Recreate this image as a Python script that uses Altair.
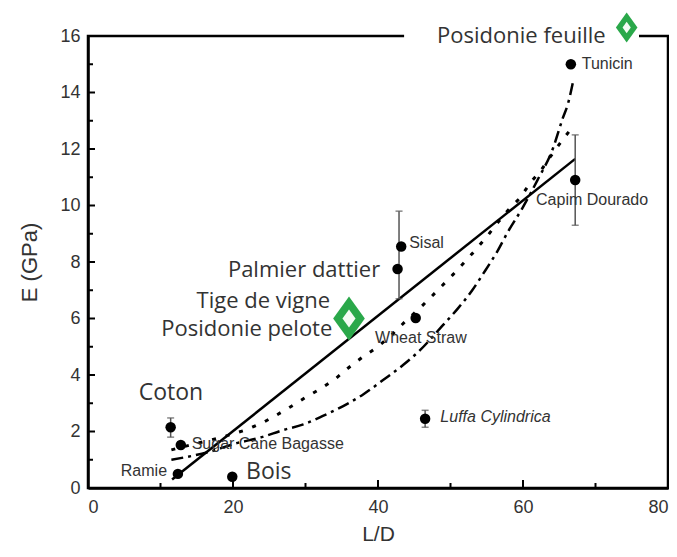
import altair as alt
import pandas as pd

# ---------------- data ----------------
fibre_names = ["Coton", "Sugar Cane Bagasse", "Ramie", "Bois", "Palmier dattier",
               "Sisal", "Wheat Straw", "Luffa Cylindrica", "Capim Dourado", "Tunicin"]
fibre_ld = [11.4, 12.8, 12.4, 19.9, 42.7, 43.2, 45.2, 46.5, 67.2, 66.6]
fibre_e = [2.15, 1.52, 0.50, 0.40, 7.75, 8.55, 6.02, 2.45, 10.9, 15.0]

err_ld = [11.4, 42.9, 46.5, 67.2]
err_lo = [1.80, 6.70, 2.15, 9.30]
err_hi = [2.48, 9.80, 2.75, 12.50]

linear_ld = [11.6, 67.2]
linear_e = [0.30, 11.65]

dotted_ld = [11.5, 15.0, 18.5, 21.7, 24.0, 25.8, 27.9, 29.9, 32.0, 34.1, 35.9, 37.9,
             40.0, 42.0, 43.7, 45.5, 47.2, 48.8, 50.4, 52.1, 53.7, 55.2, 56.6, 58.0,
             59.6, 61.0, 62.5, 63.7, 65.1, 66.5]
dotted_e = [1.35, 1.58, 1.80, 2.05, 2.30, 2.55, 2.87, 3.19, 3.50, 3.86, 4.25, 4.64,
            5.00, 5.45, 5.88, 6.30, 6.73, 7.15, 7.57, 8.04, 8.50, 8.96, 9.42, 9.85,
            10.27, 10.80, 11.25, 11.70, 12.20, 12.67]

dashdot_ld = [11.5, 17.0, 20.0, 24.1, 26.9, 29.7, 32.4, 35.2, 38.0, 40.7, 43.5, 45.8,
              48.8, 51.0, 53.0, 54.8, 56.4, 57.9, 59.9, 62.0, 64.1, 65.5, 66.2, 67.0]
dashdot_e = [1.00, 1.30, 1.55, 1.81, 2.05, 2.25, 2.55, 2.90, 3.32, 3.82, 4.36, 4.88,
             5.72, 6.35, 7.00, 7.70, 8.35, 9.06, 9.90, 10.90, 12.00, 13.10, 13.60, 14.50]

posidonie_ld = [36.0, 74.3]
posidonie_e = [6.0, 16.3]

big_text = ["Posidonie feuille", "Palmier dattier", "Tige de vigne", "Posidonie pelote"]
big_ld = [71.4, 40.3, 33.4, 33.7]
big_e = [16.0, 7.72, 6.62, 5.62]
big_left_text = ["Coton", "Bois"]
big_left_ld = [7.0, 21.8]
big_left_e = [3.36, 0.57]

small_text = ["Tunicin", "Capim Dourado", "Sisal", "Wheat Straw", "Sugar Cane Bagasse"]
small_ld = [68.1, 61.8, 44.3, 39.6, 14.3]
small_e = [15.0, 10.2, 8.67, 5.3, 1.56]
ramie_text = ["Ramie"]
ramie_ld = [10.9]
ramie_e = [0.60]
italic_text = ["Luffa Cylindrica"]
italic_ld = [48.6]
italic_e = [2.50]

label_box_ld = [43.6, 76.0]
label_box_e = [15.85, 16.15]

x_ticks = [0, 20, 40, 60, 80]
y_ticks = [0, 2, 4, 6, 8, 10, 12, 14, 16]
x_major = [20, 40, 60]
x_minor = [10, 30, 50, 70]
y_major = [2, 4, 6, 8, 10, 12, 14]
y_minor = [1, 3, 5, 7, 9, 11, 13, 15]

# ---------------- chart ----------------
W, H = 580, 452
TXT = "#333333"
GREEN = "#2aa84a"

xs = alt.Scale(domain=[0, 80], nice=False, zero=False)
ys = alt.Scale(domain=[0, 16], nice=False, zero=False)
xaxis = alt.Axis(values=x_ticks, ticks=False, grid=False, domainColor="black",
                 domainWidth=2.5, labelFont="Liberation Sans", labelFontSize=18,
                 labelColor=TXT, labelPadding=10, title="L/D",
                 titleFont="Liberation Sans", titleFontSize=21,
                 titleFontWeight="normal", titleColor=TXT, titlePadding=7)
yaxis = alt.Axis(values=y_ticks, ticks=False, grid=False, domainColor="black",
                 domainWidth=2.5, labelFont="Liberation Sans", labelFontSize=18,
                 labelColor=TXT, labelPadding=8, title="E (GPa)",
                 titleFont="Liberation Sans", titleFontSize=22,
                 titleFontWeight="normal", titleColor=TXT, titlePadding=18)


def X(f):
    return alt.X(f, type="quantitative", scale=xs, axis=xaxis)


def Y(f):
    return alt.Y(f, type="quantitative", scale=ys, axis=yaxis)


pts = pd.DataFrame({"name": fibre_names, "ld": fibre_ld, "e": fibre_e})
err = pd.DataFrame({"ld": err_ld, "lo": err_lo, "hi": err_hi})
lin = pd.DataFrame({"ld": linear_ld, "e": linear_e})
dot = pd.DataFrame({"ld": dotted_ld, "e": dotted_e})
dd = pd.DataFrame({"ld": dashdot_ld, "e": dashdot_e})
box = pd.DataFrame({"ld": [label_box_ld[0]], "ld2": [label_box_ld[1]],
                    "e": [label_box_e[0]], "e2": [label_box_e[1]]})

# inward ticks
xmaj = alt.Chart(pd.DataFrame({"ld": x_major})).mark_rule(color="black", strokeWidth=2).encode(
    x=X("ld"), y=alt.value(H), y2=alt.value(H - 8))
xmin = alt.Chart(pd.DataFrame({"ld": x_minor})).mark_rule(color="black", strokeWidth=2).encode(
    x=X("ld"), y=alt.value(H), y2=alt.value(H - 5))
ymaj = alt.Chart(pd.DataFrame({"e": y_major})).mark_rule(color="black", strokeWidth=2).encode(
    y=Y("e"), x=alt.value(0), x2=alt.value(7))
ymin = alt.Chart(pd.DataFrame({"e": y_minor})).mark_rule(color="black", strokeWidth=2).encode(
    y=Y("e"), x=alt.value(0), x2=alt.value(5))

bg = alt.Chart(box).mark_rect(color="white").encode(
    x=X("ld"), x2="ld2", y=Y("e"), y2="e2")

solid = alt.Chart(lin).mark_line(color="black", strokeWidth=2.5).encode(x=X("ld"), y=Y("e"))
dotted = alt.Chart(dot).mark_line(color="black", strokeWidth=3, strokeDash=[4, 10]).encode(
    x=X("ld"), y=Y("e"))
dashdot = alt.Chart(dd).mark_line(color="black", strokeWidth=2.5, strokeDash=[12, 5, 3, 5],
                                  interpolate="monotone").encode(x=X("ld"), y=Y("e"))

ebar = alt.Chart(err).mark_rule(color="#555555", strokeWidth=1.5).encode(
    x=X("ld"), y=Y("lo"), y2="hi")
cap_lo = alt.Chart(err).mark_tick(color="#555555", thickness=1.5, size=7, orient="horizontal").encode(
    x=X("ld"), y=Y("lo"))
cap_hi = alt.Chart(err).mark_tick(color="#555555", thickness=1.5, size=7, orient="horizontal").encode(
    x=X("ld"), y=Y("hi"))

points = alt.Chart(pts).mark_circle(color="black", size=110, opacity=1).encode(
    x=X("ld"), y=Y("e"))

DIAMOND = "M0,-1L0.72,0L0,1L-0.72,0Z"
pos1 = pd.DataFrame({"ld": posidonie_ld[:1], "e": posidonie_e[:1]})
pos2 = pd.DataFrame({"ld": posidonie_ld[1:], "e": posidonie_e[1:]})
d1o = alt.Chart(pos1).mark_point(shape=DIAMOND, filled=True, color=GREEN, size=1936, opacity=1).encode(
    x=X("ld"), y=Y("e"))
d1i = alt.Chart(pos1).mark_point(shape=DIAMOND, filled=True, color="#f4fbf4", size=330, opacity=1).encode(
    x=X("ld"), y=Y("e"))
d2o = alt.Chart(pos2).mark_point(shape=DIAMOND, filled=True, color=GREEN, size=900, opacity=1).encode(
    x=X("ld"), y=Y("e"))
d2i = alt.Chart(pos2).mark_point(shape=DIAMOND, filled=True, color="#f4fbf4", size=130, opacity=1).encode(
    x=X("ld"), y=Y("e"))

big_r = alt.Chart(pd.DataFrame({"t": big_text, "ld": big_ld, "e": big_e})).mark_text(
    font="Open Sans", fontSize=22, color=TXT, align="right", baseline="middle").encode(
    x=X("ld"), y=Y("e"), text="t:N")
big_l = alt.Chart(pd.DataFrame({"t": big_left_text, "ld": big_left_ld, "e": big_left_e})).mark_text(
    font="Open Sans", fontSize=23, color=TXT, align="left", baseline="middle").encode(
    x=X("ld"), y=Y("e"), text="t:N")
small_l = alt.Chart(pd.DataFrame({"t": small_text, "ld": small_ld, "e": small_e})).mark_text(
    font="Liberation Sans", fontSize=16, color=TXT, align="left", baseline="middle").encode(
    x=X("ld"), y=Y("e"), text="t:N")
small_r = alt.Chart(pd.DataFrame({"t": ramie_text, "ld": ramie_ld, "e": ramie_e})).mark_text(
    font="Liberation Sans", fontSize=16, color=TXT, align="right", baseline="middle").encode(
    x=X("ld"), y=Y("e"), text="t:N")
small_i = alt.Chart(pd.DataFrame({"t": italic_text, "ld": italic_ld, "e": italic_e})).mark_text(
    font="Liberation Sans", fontSize=16, fontStyle="italic", color=TXT, align="left",
    baseline="middle").encode(x=X("ld"), y=Y("e"), text="t:N")

chart = alt.layer(
    bg, xmaj, xmin, ymaj, ymin, solid, dotted, dashdot, ebar, cap_lo, cap_hi, points,
    d1o, d1i, d2o, d2i, big_r, big_l, small_l, small_r, small_i
).properties(
    width=W, height=H,
    autosize=alt.AutoSizeParams(type="none"),
    padding={"left": 80, "top": 28, "right": 1, "bottom": 61},
).configure(
    background="white"
).configure_view(
    stroke="black", strokeWidth=2.5
)

chart.save("out.html", embed_options={"renderer": "svg", "actions": False})
